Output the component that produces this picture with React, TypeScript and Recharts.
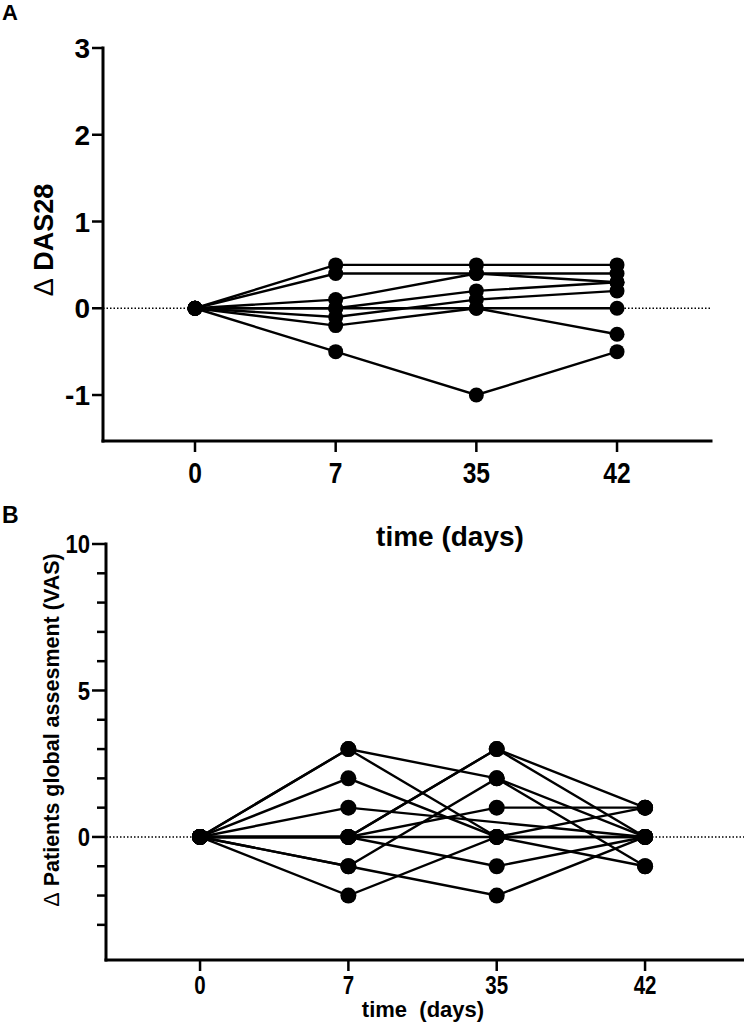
import React from 'react';
import { LineChart, Line, XAxis, YAxis, ReferenceLine, Label } from 'recharts';

// ---------- data ----------
const days = ['0', '7', '35', '42'];
const dayIndex = [0, 1, 2, 3];

// Panel A: change in DAS28 per patient at days 0, 7, 35, 42
const dasP1 = [0, 0.5, 0.5, 0.5];
const dasP2 = [0, 0.4, 0.4, 0.4];
const dasP3 = [0, 0.1, 0.4, 0.3];
const dasP4 = [0, 0, 0.2, 0.3];
const dasP5 = [0, -0.1, 0.1, 0.2];
const dasP6 = [0, -0.2, 0, 0];
const dasP7 = [0, 0, 0, -0.3];
const dasP8 = [0, -0.5, -1, -0.5];
const dasSeries = [dasP1, dasP2, dasP3, dasP4, dasP5, dasP6, dasP7, dasP8];
const dasTicks = [-1, 0, 1, 2, 3];

// Panel B: change in patients global assessment (VAS)
const vasP1 = [0, 3, 2, 0];
const vasP2 = [0, 3, 0, -1];
const vasP3 = [0, 2, 0, 1];
const vasP4 = [0, 1, null, 0];
const vasP5 = [0, 0, 3, 1];
const vasP6 = [0, 0, 1, 1];
const vasP7 = [0, 0, 0, 0];
const vasP8 = [0, 0, -1, 0];
const vasP9 = [0, -1, 2, -1];
const vasP10 = [0, -1, -2, 0];
const vasP11 = [0, -2, 0, 0];
const vasP12 = [0, 0, 3, 0];
const vasSeries = [vasP1, vasP2, vasP3, vasP4, vasP5, vasP6, vasP7, vasP8, vasP9, vasP10, vasP11, vasP12];
const vasMajorTicks = [0, 5, 10];
const vasAllTicks = [-3, -2, -1, 0, 1, 2, 3, 4, 5, 6, 7, 8, 9, 10];

// ---------- helpers ----------
const FONT = "'Liberation Sans', Arial, Helvetica, sans-serif";

function makeRows(series: (number | null)[][]) {
  return dayIndex.map((i) => {
    const row: Record<string, number | null> = { x: i };
    series.forEach((s, k) => {
      row['p' + k] = s[i];
    });
    return row;
  });
}

const dasRows = makeRows(dasSeries);
const vasRows = makeRows(vasSeries);

const makeXTick = (len: number, dy: number, fs: number, sx: number) => (props: any) => {
  const { x, y, payload } = props;
  return (
    <g>
      <line x1={x} y1={y} x2={x} y2={y + len} stroke="#000" strokeWidth={2.5} />
      <text
        transform={`translate(${x},${y + dy}) scale(${sx},1)`}
        textAnchor="middle"
        fontFamily={FONT}
        fontWeight="bold"
        fontSize={fs}
        fill="#000"
      >
        {days[payload.value]}
      </text>
    </g>
  );
};

const makeYTick = (majors: number[] | null, majorLen: number, minorLen: number, fs: number, sx: number, gap: number) => (props: any) => {
  const { x, y, payload } = props;
  const isMajor = majors ? majors.includes(payload.value) : true;
  const len = isMajor ? majorLen : minorLen;
  return (
    <g>
      <line x1={x - len} y1={y} x2={x} y2={y} stroke="#000" strokeWidth={2.5} />
      {isMajor && (
        <text
          transform={`translate(${x - majorLen - gap},${y + fs * 0.36}) scale(${sx},1)`}
          textAnchor="end"
          fontFamily={FONT}
          fontWeight="bold"
          fontSize={fs}
          fill="#000"
        >
          {String(payload.value)}
        </text>
      )}
    </g>
  );
};

const axisStyle = { stroke: '#000', strokeWidth: 3, strokeLinecap: 'square' as const };

export default function App() {
  const chartBTop = 490;
  return (
    <div style={{ position: 'absolute', left: 0, top: 0, width: 744, height: 1024, background: '#fff' }}>
      {/* Panel A */}
      <div style={{ position: 'absolute', left: 0, top: 0 }}>
        <LineChart width={744} height={560} data={dasRows} margin={{ top: 48, right: 33, bottom: 0, left: 0 }}>
          <XAxis
            type="number"
            dataKey="x"
            domain={[-0.654, 3.668]}
            ticks={dayIndex}
            allowDataOverflow
            interval={0}
            height={119}
            axisLine={axisStyle}
            tickLine={false}
            tickSize={0}
            tickMargin={0}
            tick={makeXTick(11, 42, 30, 0.82)}
          >
            <Label
              content={() => (
                <text x={450} y={546} textAnchor="middle" fontFamily={FONT} fontWeight="bold" fontSize={28} fill="#000">
                  time (days)
                </text>
              )}
            />
          </XAxis>
          <YAxis
            type="number"
            domain={[-1.53, 3]}
            ticks={dasTicks}
            allowDataOverflow
            interval={0}
            width={103}
            axisLine={axisStyle}
            tickLine={false}
            tickSize={0}
            tickMargin={0}
            tick={makeYTick(null, 11, 11, 28, 1, 2)}
          >
            <Label
              content={() => (
                <text
                  transform="translate(53,240) rotate(-90)"
                  textAnchor="middle"
                  fontFamily={FONT}
                  fontWeight="bold"
                  fontSize={27}
                  fill="#000"
                >
                  <tspan fontWeight="normal">Δ</tspan> DAS28
                </text>
              )}
            />
            <Label
              content={() => (
                <text x={2} y={20} fontFamily={FONT} fontWeight="bold" fontSize={22} fill="#000">
                  A
                </text>
              )}
            />
          </YAxis>
          <ReferenceLine y={0} stroke="#000" strokeWidth={1.5} strokeDasharray="1.5 2" />
          {dasSeries.map((_, k) => (
            <Line
              key={'a' + k}
              type="linear"
              dataKey={'p' + k}
              stroke="#000"
              strokeWidth={2.4}
              dot={{ r: 7.5, fill: '#000', stroke: '#000', strokeWidth: 0 }}
              activeDot={false}
              connectNulls
              isAnimationActive={false}
            />
          ))}
        </LineChart>
      </div>

      {/* Panel B */}
      <div style={{ position: 'absolute', left: 0, top: chartBTop }}>
        <LineChart width={744} height={534} data={vasRows} margin={{ top: 54, right: 0, bottom: 0, left: 0 }}>
          <XAxis
            type="number"
            dataKey="x"
            domain={[-0.634, 3.667]}
            ticks={dayIndex}
            allowDataOverflow
            interval={0}
            height={64}
            axisLine={axisStyle}
            tickLine={false}
            tickSize={0}
            tickMargin={0}
            tick={makeXTick(11, 34, 25, 0.82)}
          >
            <Label
              content={() => (
                <text
                  x={423}
                  y={1017 - chartBTop}
                  textAnchor="middle"
                  fontFamily={FONT}
                  fontWeight="bold"
                  fontSize={22}
                  fill="#000"
                  style={{ whiteSpace: 'pre' }}
                >
                  {'time  (days)'}
                </text>
              )}
            />
          </XAxis>
          <YAxis
            type="number"
            domain={[-4.2, 10]}
            ticks={vasAllTicks}
            allowDataOverflow
            interval={0}
            width={106}
            axisLine={axisStyle}
            tickLine={false}
            tickSize={0}
            tickMargin={0}
            tick={makeYTick(vasMajorTicks, 14, 9, 26, 0.85, 2)}
          >
            <Label
              content={() => (
                <text
                  transform={`translate(59,${730 - chartBTop}) rotate(-90)`}
                  textAnchor="middle"
                  fontFamily={FONT}
                  fontWeight="bold"
                  fontSize={21.5}
                  fill="#000"
                >
                  <tspan fontWeight="normal">Δ</tspan> Patients global assesment (VAS)
                </text>
              )}
            />
            <Label
              content={() => (
                <text x={2} y={523 - chartBTop} fontFamily={FONT} fontWeight="bold" fontSize={23} fill="#000">
                  B
                </text>
              )}
            />
          </YAxis>
          <ReferenceLine y={0} stroke="#000" strokeWidth={1.5} strokeDasharray="1.5 2" />
          {vasSeries.map((_, k) => (
            <Line
              key={'b' + k}
              type="linear"
              dataKey={'p' + k}
              stroke="#000"
              strokeWidth={2.4}
              dot={{ r: 8, fill: '#000', stroke: '#000', strokeWidth: 0 }}
              activeDot={false}
              connectNulls
              isAnimationActive={false}
            />
          ))}
        </LineChart>
      </div>
    </div>
  );
}
